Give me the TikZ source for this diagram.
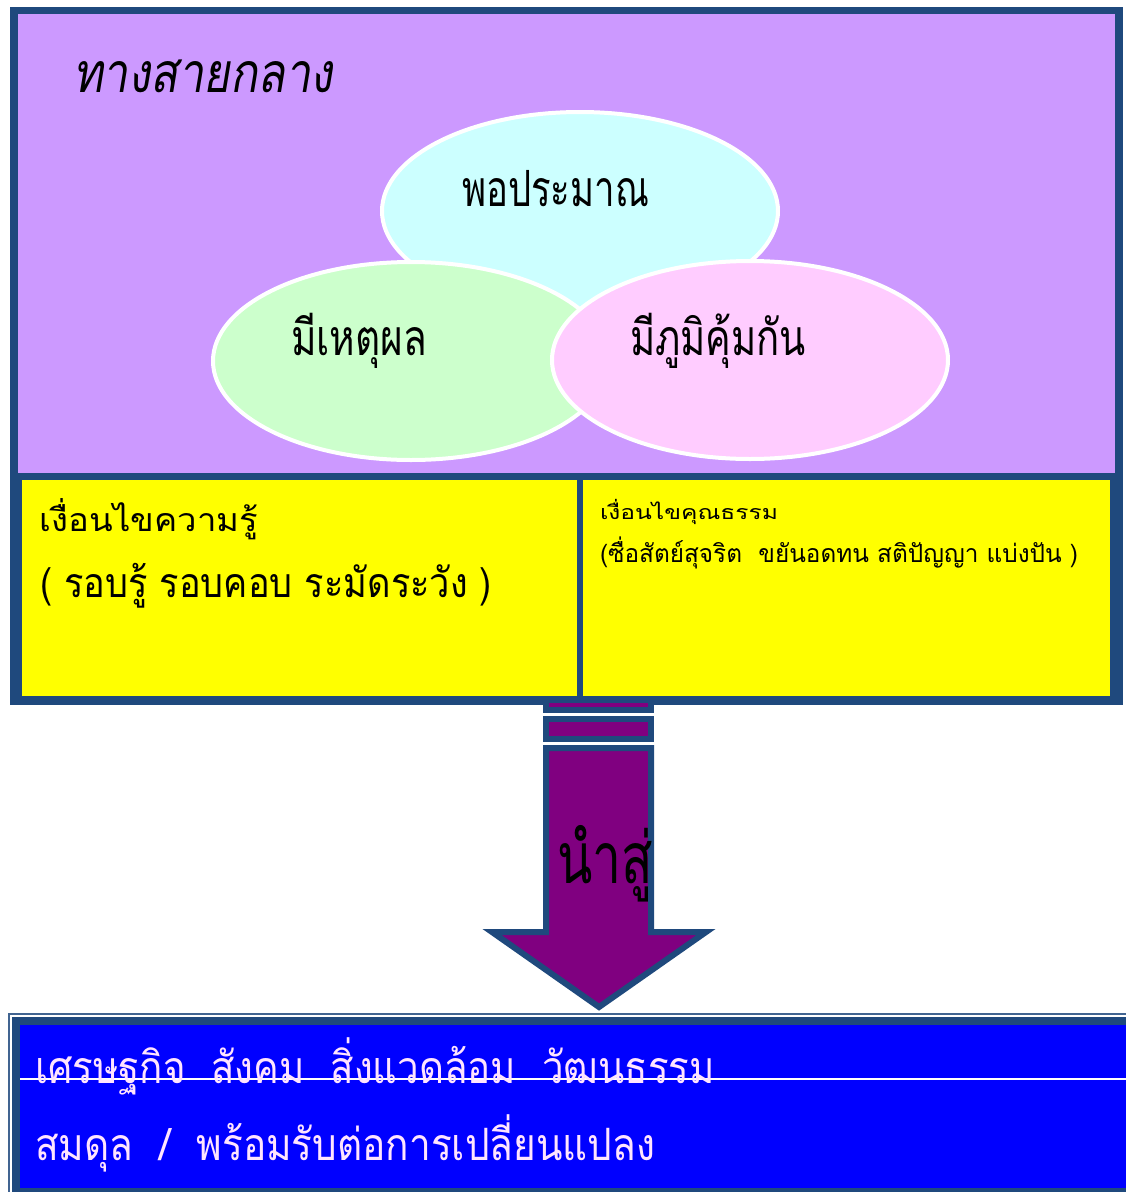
\documentclass[tikz,border=0pt]{standalone}
\usepackage{fontspec}
\usepackage{graphicx}
\usetikzlibrary{shapes.geometric}
\newfontfamily\thai[Script=Thai]{Loma}
\newfontfamily\thaiI[Script=Thai,FakeSlant=0.2]{Loma}
\definecolor{frameblue}{HTML}{1F497D}
\definecolor{lav}{HTML}{CC99FF}
\definecolor{ovcyan}{HTML}{CCFFFF}
\definecolor{ovgreen}{HTML}{CCFFCC}
\definecolor{ovpink}{HTML}{FFCCFF}
\definecolor{yel}{HTML}{FFFF00}
\definecolor{arrowpurple}{HTML}{800080}
\definecolor{bbl}{HTML}{0000FF}
\definecolor{pinkwhite}{HTML}{FFE4FF}
\newsavebox\fitA
\newsavebox\fitB
\newcommand\fitto[4]{\sbox\fitA{#1#4}\sbox\fitB{#1อ}%
  \pgfmathsetmacro\fx{#2/\the\wd\fitA}\pgfmathsetmacro\fy{#3/\the\ht\fitB}%
  \scalebox{\fx}[\fy]{\usebox\fitA}}
\begin{document}
\begin{tikzpicture}[x=1pt,y=-1pt,
  txt/.style={anchor=base west,inner sep=0pt,outer sep=0pt},
  oval/.style={ellipse,draw=white,line width=4pt,minimum width=396pt,minimum height=198pt,inner sep=0pt},
  piece/.style={draw=frameblue,line width=6pt,fill=arrowpurple,line join=miter}]
\useasboundingbox (0,0) rectangle (1126,1192);
\clip (0,0) rectangle (1126,1192);
% upper box
\fill[frameblue] (10,7) rectangle (1123,705);
\fill[lav] (18,14) rectangle (1115,473);
\node[txt] (title) at (73,92) {\fitto{\thaiI}{260}{31}{ทางสายกลาง}};
\node[oval,fill=ovcyan] (e1) at (580,211) {};
\node[oval,fill=ovgreen] (e2) at (411,361) {};
\node[oval,fill=ovpink] (e3) at (750,360) {};
\node[txt] (t1) at (462,206) {\fitto{\thai}{187}{28}{พอประมาณ}};
\node[txt] (t2) at (291,355) {\fitto{\thai}{136}{28}{มีเหตุผล}};
\node[txt] (t3) at (630,355) {\fitto{\thai}{176}{28}{มีภูมิคุ้มกัน}};
% yellow boxes
\fill[yel] (22,480) rectangle (577,696);
\fill[yel] (583,480) rectangle (1110,696);
\node[txt] (k1) at (40,531) {\fitto{\thai}{218}{18}{เงื่อนไขความรู้}};
\node[txt] (k2) at (40,597) {\fitto{\thai}{452}{23}{( รอบรู้ รอบคอบ ระมัดระวัง )}};
\node[txt] (m1) at (600,519) {\fitto{\thai}{178}{11}{เงื่อนไขคุณธรรม}};
\node[txt] (m2) at (600,562) {\fitto{\thai}{478}{14}{(ซื่อสัตย์สุจริต\ \ ขยันอดทน สติปัญญา แบ่งปัน )}};
% bottom box
\draw[frameblue!85,line width=2pt] (9,1014) rectangle (1140,1200);
\fill[frameblue] (12,1017) rectangle (1140,1200);
\fill[bbl] (20,1025) rectangle (1140,1188);
\draw[white,line width=1.5pt] (20,1079) -- (1126,1079);
\node[txt,text=pinkwhite] (b1) at (35,1083) {\fitto{\thai}{680}{25}{เศรษฐกิจ\ \ สังคม\ \ สิ่งแวดล้อม\ \ วัฒนธรรม}};
\node[txt,text=pinkwhite] (b2) at (35,1160) {\fitto{\thai}{620}{25}{สมดุล\ \ /\ \ พร้อมรับต่อการเปลี่ยนแปลง}};
% arrow
\draw[piece] (546,700) rectangle (651,710);
\draw[piece] (546,719) rectangle (651,739);
\draw[piece] (546,748) -- (651,748) -- (651,932) -- (706,932) -- (599,1007) -- (492,932) -- (546,932) -- cycle;
\node[txt] (lead) at (557,883) {\fitto{\thai}{96}{40}{นำสู่}};
\end{tikzpicture}
\end{document}
